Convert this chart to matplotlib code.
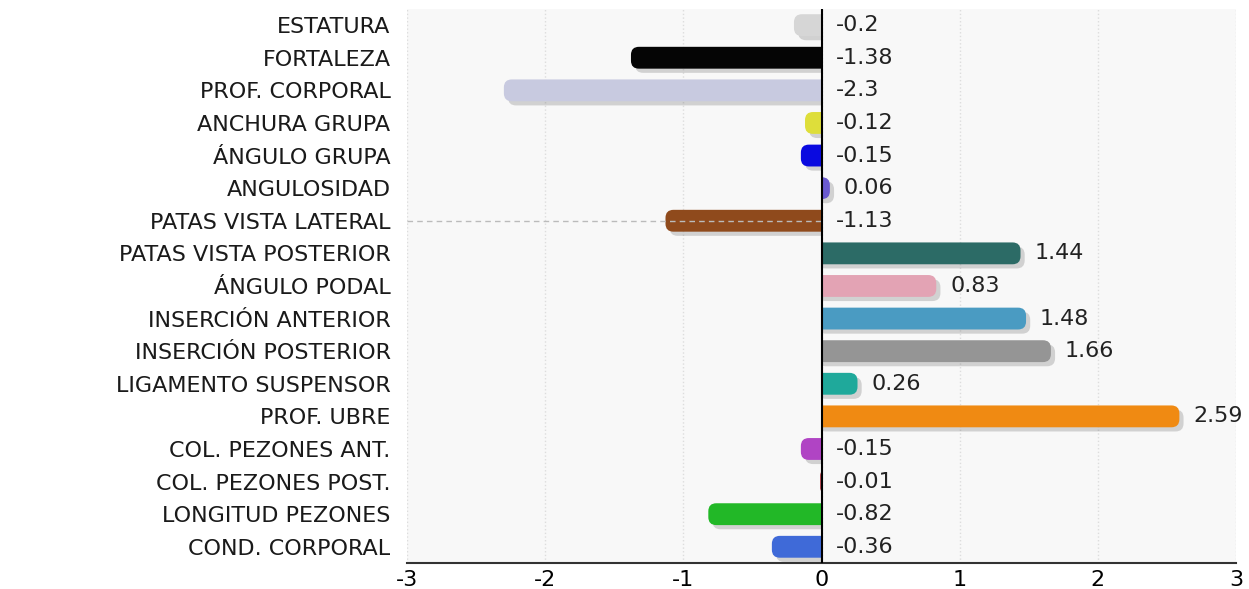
import matplotlib.pyplot as plt
import matplotlib.patheffects as pe
from matplotlib.patches import FancyBboxPatch, Rectangle

# datos del gráfico
categorias = ['ESTATURA', 'FORTALEZA', 'PROF. CORPORAL', 'ANCHURA GRUPA', 'ÁNGULO GRUPA',
              'ANGULOSIDAD', 'PATAS VISTA LATERAL', 'PATAS VISTA POSTERIOR', 'ÁNGULO PODAL',
              'INSERCIÓN ANTERIOR', 'INSERCIÓN POSTERIOR', 'LIGAMENTO SUSPENSOR', 'PROF. UBRE',
              'COL. PEZONES ANT.', 'COL. PEZONES POST.', 'LONGITUD PEZONES', 'COND. CORPORAL']
valores = [-0.2, -1.38, -2.3, -0.12, -0.15, 0.06, -1.13, 1.44, 0.83, 1.48, 1.66, 0.26,
           2.59, -0.15, -0.01, -0.82, -0.36]
colores = ['#d6d6d6', '#050505', '#c8cae0', '#dede3a', '#0a0ae0', '#6a5ad0', '#8f4a1c',
           '#2c6b66', '#e3a3b4', '#4a9bc2', '#959595', '#1fa99b', '#f08a12', '#b044c4',
           '#a51f2a', '#22b827', '#3f6ad8']
marcas_x = [-3, -2, -1, 0, 1, 2, 3]

plt.rcParams['font.family'] = ['DejaVu Sans']
fs = 16

fig = plt.figure(figsize=(12.49, 5.89), dpi=100)
ax = fig.add_axes([0.326, 0.044, 0.6636, 0.941])
ax.set_facecolor('#f8f8f8')
ax.set_xlim(-3, 3)
ax.set_ylim(16.5, -0.5)

# relación píxeles x / píxeles y por unidad, para redondear los extremos
bbox = ax.get_position()
px_x = bbox.width * fig.get_figwidth() * fig.dpi / 6
px_y = bbox.height * fig.get_figheight() * fig.dpi / 17
aspecto = px_x / px_y
radio = 8 / px_x
alto = 0.67

pos = list(range(len(categorias)))
sombra = [pe.SimplePatchShadow(offset=(3, -3), shadow_rgbFace='#777777', alpha=0.3), pe.Normal()]
for p, v, c in zip(pos, valores, colores):
    signo = 1 if v >= 0 else -1
    x0 = min(-signo * radio, v)
    ancho = abs(v) + radio
    rs = min(radio, ancho / 2)
    barra = FancyBboxPatch((x0, p - alto / 2), ancho, alto,
                           boxstyle=f'round,pad=0,rounding_size={rs}',
                           mutation_aspect=aspecto, fc=c, ec='none', zorder=3)
    barra.set_path_effects(sombra)
    ax.add_patch(barra)
    if signo > 0:
        clip = Rectangle((0, p - 0.5), v + 0.2, 1, transform=ax.transData)
    else:
        clip = Rectangle((v - 0.2, p - 0.5), abs(v) + 0.2, 1, transform=ax.transData)
    barra.set_clip_path(clip)

# etiquetas de valor
for p, v in zip(pos, valores):
    x = max(v, 0)
    ax.text(x + 0.1, p, str(v), va='center', ha='left', fontsize=fs, color='#222222', zorder=5)

# línea discontinua del cursor
ax.plot([-3, 0], [6, 6], ls=(0, (4, 3)), color='#bbbbbb', lw=1, zorder=4)

ax.axvline(0, color='black', lw=1.5, zorder=4)
ax.set_xticks(marcas_x)
ax.set_xticklabels([str(m) for m in marcas_x], fontsize=fs)
ax.set_yticks(pos)
ax.set_yticklabels(categorias, fontsize=fs, color='#1a1a1a')
ax.tick_params(length=0, pad=12)
ax.tick_params(axis='x', pad=5)
ax.grid(axis='x', color='#dddddd', ls=':', lw=1, zorder=0)

for s in ['top', 'right', 'left']:
    ax.spines[s].set_visible(False)
ax.spines['bottom'].set_color('#333333')
ax.spines['bottom'].set_linewidth(1.5)

fig.savefig('out.png', dpi=100)
